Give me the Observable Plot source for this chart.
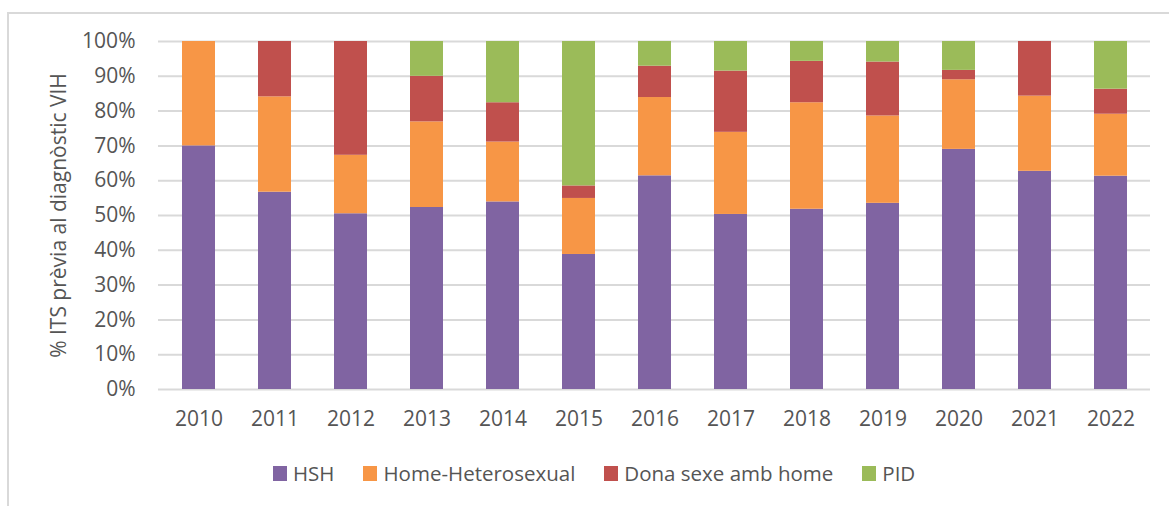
<!DOCTYPE html>
<html><head><meta charset="utf-8">
<script src="https://cdn.jsdelivr.net/npm/d3@7"></script>
<script src="https://cdn.jsdelivr.net/npm/@observablehq/plot@0.6"></script>
<style>
body{margin:0;background:#fff;font-family:"Open Sans",sans-serif;}
#wrap{position:relative;width:1169px;height:506px;overflow:hidden;}
#border{position:absolute;left:7px;top:12px;width:1200px;height:600px;border:2px solid #d9d9d9;box-sizing:border-box;}
#chart{position:absolute;left:0;top:0;}
#legend{position:absolute;left:273px;top:460px;display:flex;align-items:center;font-size:20.5px;color:#555555;line-height:27px;}
.item{display:flex;align-items:center;margin-right:29px;}
.sw{width:14px;height:15px;margin-right:6px;}
</style></head>
<body>
<div id="wrap"><div id="border"></div><div id="chart"></div><div id="legend"></div></div>
<script>
const years = ["2010","2011","2012","2013","2014","2015","2016","2017","2018","2019","2020","2021","2022"];
const series = ["HSH","Home-Heterosexual","Dona sexe amb home","PID"];
const colors = ["#8064A2","#F79646","#C0504D","#9BBB59"];
const hsh        = [70.0,56.7,50.5,52.3,53.9,38.8,61.4,50.3,51.8,53.5,69.0,62.7,61.3];
const homeHetero = [30.0,27.4,16.8,24.6,17.2,16.1,22.5,23.6,30.6,25.1,20.0,21.6,17.8];
const dona       = [0,15.9,32.7,13.1,11.3,3.6,9.0,17.6,11.9,15.5,2.7,15.7,7.2];
const pid        = [0,0,0,10.0,17.6,41.5,7.1,8.5,5.7,5.9,8.3,0,13.7];
const yTicks = [0,10,20,30,40,50,60,70,80,90,100];
const yTitle = "% ITS prèvia al diagnòstic VIH";

const seriesValues = [hsh, homeHetero, dona, pid];
const data = [];
years.forEach((yr, i) => {
  series.forEach((s, j) => data.push({year: yr, series: s, value: seriesValues[j][i]}));
});

const chart = Plot.plot({
  width: 1169, height: 445,
  marginTop: 41, marginBottom: 56, marginLeft: 158, marginRight: 19,
  style: {fontFamily: "Open Sans", fontSize: "21px", color: "#555555", background: "transparent"},
  x: {domain: years, paddingInner: 0.567, paddingOuter: 0.2835, label: null},
  y: {domain: [0, 100], label: null},
  color: {domain: series, range: colors},
  marks: [
    Plot.ruleY(yTicks, {stroke: "#d9d9d9", strokeWidth: 2}),
    Plot.barY(data, {x: "year", y: "value", fill: "series"}),
    Plot.axisY(yTicks, {tickSize: 0, tickPadding: 23, tickFormat: d => d + "%", fontSize: 21}),
    Plot.axisX({tickSize: 0, tickPadding: 22, fontSize: 21}),
    Plot.text([yTitle], {frameAnchor: "left", dx: -99, rotate: -90, fontSize: 21, textAnchor: "middle", fill: "#555555"})
  ]
});
document.getElementById("chart").appendChild(chart);

const legend = document.getElementById("legend");
series.forEach((s, j) => {
  const it = document.createElement("div"); it.className = "item";
  const sw = document.createElement("div"); sw.className = "sw"; sw.style.background = colors[j];
  const tx = document.createElement("span"); tx.textContent = s;
  it.appendChild(sw); it.appendChild(tx); legend.appendChild(it);
});
</script>
</body></html>
